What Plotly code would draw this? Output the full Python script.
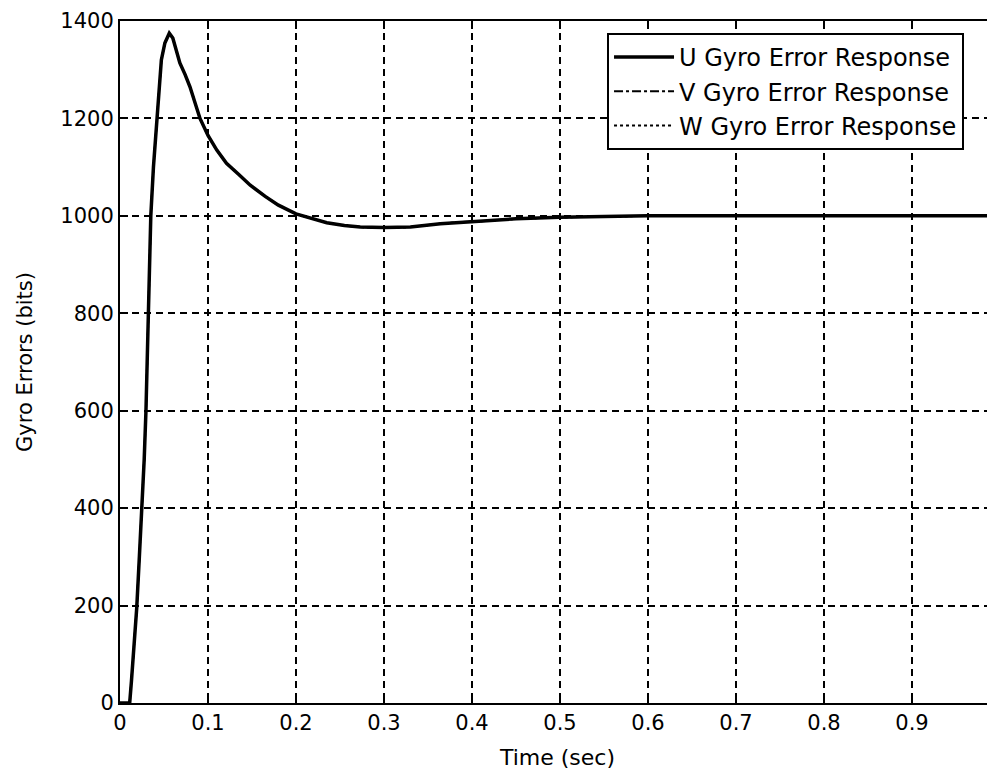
import plotly.graph_objects as go

# Time (sec)
time_s = [0, 0.005, 0.011, 0.013, 0.016, 0.019, 0.022, 0.025, 0.0275, 0.0295,
          0.031, 0.032, 0.0335, 0.035, 0.038, 0.0417, 0.044, 0.047, 0.051, 0.056,
          0.060, 0.064, 0.068, 0.074, 0.0795, 0.0909, 0.1, 0.11, 0.121, 0.135,
          0.148, 0.165, 0.18, 0.2, 0.22, 0.235, 0.255, 0.273, 0.3, 0.33,
          0.364, 0.386, 0.42, 0.45, 0.5, 0.55, 0.6, 0.7, 0.8, 0.9, 1.0]
# Gyro error (bits)
gyro_err = [0, 0, 0, 45, 120, 195, 300, 400, 500, 600,
            700, 800, 900, 1000, 1100, 1200, 1260, 1320, 1355, 1375,
            1365, 1340, 1314, 1290, 1265, 1200, 1165, 1135, 1108, 1085,
            1063, 1040, 1022, 1004, 993, 986, 980, 977, 976, 977,
            984, 987, 990, 994, 997, 999, 1000, 1000, 1000, 1000, 1000]

series_names = ["U Gyro Error Response", "V Gyro Error Response", "W Gyro Error Response"]
x_ticks = [0, 0.1, 0.2, 0.3, 0.4, 0.5, 0.6, 0.7, 0.8, 0.9]
x_tick_labels = ["0", "0.1", "0.2", "0.3", "0.4", "0.5", "0.6", "0.7", "0.8", "0.9"]
y_ticks = [0, 200, 400, 600, 800, 1000, 1200, 1400]

FONT = "DejaVu Sans"

fig = go.Figure()
fig.add_trace(go.Scatter(x=time_s, y=gyro_err, mode="lines", name=series_names[0],
                         line=dict(color="black", width=3.5, dash="solid")))
fig.add_trace(go.Scatter(x=time_s, y=gyro_err, mode="lines", name=series_names[1],
                         line=dict(color="black", width=2, dash="dashdot")))
fig.add_trace(go.Scatter(x=time_s, y=gyro_err, mode="lines", name=series_names[2],
                         line=dict(color="black", width=2, dash="dot")))

fig.update_layout(
    width=987, height=768,
    margin=dict(l=112, r=0, t=13, b=73, autoexpand=False),
    paper_bgcolor="white", plot_bgcolor="white",
    font=dict(family=FONT, color="black", size=21),
    showlegend=True,
    legend=dict(x=0.5566, y=0.9824, xanchor="left", yanchor="top",
                bgcolor="white", bordercolor="black", borderwidth=2,
                font=dict(family=FONT, size=24, color="black"),
                itemwidth=60, tracegroupgap=0),
    xaxis=dict(range=[0, 0.9943], tickvals=x_ticks, ticktext=x_tick_labels,
               automargin=False,
               showgrid=True, gridcolor="black", gridwidth=1.5, griddash="7px,5px",
               showline=True, linecolor="black", linewidth=2, mirror="ticks",
               ticks="inside", ticklen=8, tickwidth=2, tickcolor="black",
               zeroline=False,
               tickfont=dict(family=FONT, size=21, color="black"),
               title=dict(text="Time (sec)", font=dict(family=FONT, size=22, color="black"),
                          standoff=15)),
    yaxis=dict(range=[0, 1400], tickvals=y_ticks,
               automargin=False,
               showgrid=True, gridcolor="black", gridwidth=1.5, griddash="7px,5px",
               showline=True, linecolor="black", linewidth=2, mirror=False,
               ticks="inside", ticklen=8, tickwidth=2, tickcolor="black",
               zeroline=False,
               tickfont=dict(family=FONT, size=21, color="black"),
               title=dict(text="Gyro Errors (bits)", font=dict(family=FONT, size=21, color="black"),
                          standoff=22)),
)

fig.write_html("out.html")
